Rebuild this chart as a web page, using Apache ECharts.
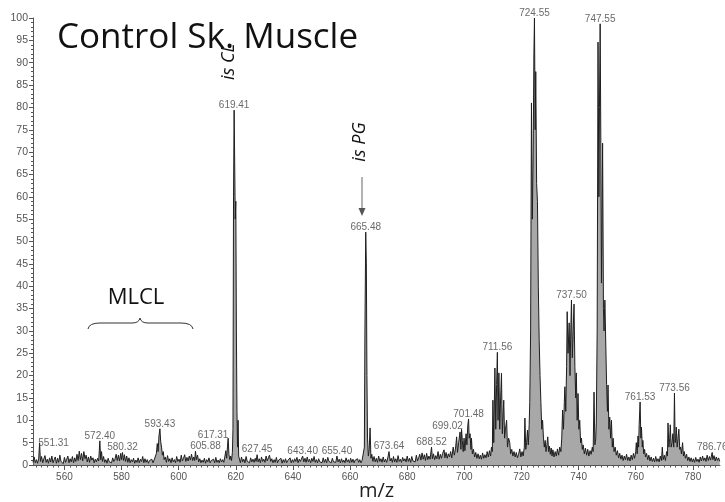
<!DOCTYPE html>
<html><head><meta charset="utf-8">
<script src="https://cdn.jsdelivr.net/npm/echarts@6/dist/echarts.min.js"></script>
<style>html,body{margin:0;padding:0;background:#fff}#c{width:725px;height:502px}</style>
</head><body><div id="c"></div>
<script>
// ---- data: [m/z, relative abundance] ----
const spectrum = [
[549.0,0.6],[549.4,1.8],[549.8,0.5],[550.2,1.2],[550.6,0.4],[551.0,1.5],[551.31,4.9],[551.6,0.8],[552.0,1.9],[552.4,0.5],
[552.8,1.4],[553.2,2.1],[553.6,0.6],[554.0,1.3],[554.4,0.4],[554.8,1.6],[555.2,0.7],[555.6,2.0],[556.0,0.5],[556.4,1.2],
[556.8,1.8],[557.2,0.4],[557.6,1.5],[558.0,0.6],[558.4,2.2],[558.8,0.8],[559.2,1.1],[559.6,0.3],[560.0,1.7],[560.4,0.6],
[560.8,1.3],[561.2,2.0],[561.6,0.5],[562.0,1.4],[562.4,0.7],[562.8,1.9],[563.2,0.5],[563.6,1.6],[564.0,0.8],[564.4,2.4],
[564.8,1.0],[565.2,3.1],[565.6,1.2],[566.0,2.6],[566.4,0.9],[566.8,3.0],[567.2,1.4],[567.6,2.2],[568.0,0.7],[568.4,1.8],
[568.8,0.6],[569.2,2.0],[569.6,1.1],[570.0,1.6],[570.4,0.5],[570.8,1.3],[571.2,0.7],[571.6,1.5],[572.0,0.9],[572.4,5.4],
[572.7,1.2],[573.0,3.0],[573.3,0.8],[573.7,1.9],[574.1,0.6],[574.5,1.2],[574.9,0.4],[575.3,1.5],[575.7,0.7],[576.1,1.1],
[576.5,0.5],[576.9,1.6],[577.3,0.8],[577.7,1.3],[578.1,2.4],[578.5,1.0],[578.9,2.2],[579.3,0.9],[579.7,2.6],[580.0,1.2],
[580.32,2.8],[580.7,1.0],[581.0,2.3],[581.4,0.8],[581.8,2.0],[582.2,0.6],[582.6,1.6],[583.0,0.5],[583.4,1.2],[583.8,0.7],
[584.2,1.5],[584.6,0.4],[585.0,1.1],[585.4,0.6],[585.8,1.6],[586.2,0.5],[586.6,1.3],[587.0,0.8],[587.4,1.9],[587.8,0.5],
[588.2,1.4],[588.6,0.6],[589.0,1.2],[589.4,0.4],[589.8,1.0],[590.2,0.6],[590.6,1.3],[591.0,0.5],[591.4,1.1],[591.8,0.7],
[592.2,2.6],[592.5,4.8],[592.8,3.0],[593.1,6.5],[593.43,8.1],[593.7,5.2],[594.0,4.0],[594.3,2.2],[594.6,3.0],[594.9,1.2],
[595.3,1.8],[595.7,0.6],[596.1,2.1],[596.5,0.8],[596.9,1.4],[597.3,0.5],[597.7,1.6],[598.1,0.7],[598.5,1.2],[598.9,0.5],
[599.3,1.9],[599.7,0.8],[600.1,1.3],[600.5,0.6],[600.9,2.2],[601.3,0.9],[601.7,1.5],[602.1,2.3],[602.5,0.8],[602.9,1.7],
[603.3,0.9],[603.7,2.0],[604.1,1.1],[604.5,2.4],[604.9,1.0],[605.3,1.8],[605.6,1.0],[605.88,3.1],[606.2,1.2],[606.6,2.2],
[607.0,0.7],[607.4,1.4],[607.8,0.5],[608.2,1.1],[608.6,0.6],[609.0,1.5],[609.4,0.4],[609.8,1.2],[610.2,0.7],[610.6,1.6],
[611.0,0.5],[611.4,1.0],[611.8,0.6],[612.2,1.3],[612.6,0.5],[613.0,1.7],[613.4,0.6],[613.8,1.1],[614.2,0.5],[614.6,1.4],
[615.0,0.7],[615.4,1.2],[615.8,0.6],[616.2,2.0],[616.5,3.2],[616.8,1.5],[617.1,4.2],[617.31,6.0],[617.6,2.3],[617.9,1.2],
[618.2,2.0],[618.5,1.0],[618.8,2.8],[619.0,8],[619.2,60],[619.41,79.4],[619.6,68],[619.8,55],[620.0,59],[620.2,30],
[620.4,12],[620.6,4],[620.8,10],[621.0,2],[621.3,1.6],[621.6,0.5],[622.0,1.8],[622.4,0.7],[622.8,1.3],[623.2,0.5],
[623.6,1.9],[624.0,0.8],[624.4,1.2],[624.8,0.5],[625.2,1.6],[625.6,0.7],[626.0,1.3],[626.4,0.6],[626.8,1.5],[627.1,0.8],
[627.45,2.3],[627.8,0.7],[628.2,1.4],[628.6,0.5],[629.0,1.8],[629.4,0.8],[629.8,1.3],[630.2,0.6],[630.6,2.0],[631.0,0.9],
[631.4,1.6],[631.8,2.2],[632.2,0.8],[632.6,1.4],[633.0,0.5],[633.4,1.2],[633.8,0.6],[634.2,1.7],[634.6,0.5],[635.0,1.1],
[635.4,0.7],[635.8,1.5],[636.2,0.4],[636.6,1.2],[637.0,0.6],[637.4,1.4],[637.8,0.5],[638.2,1.0],[638.6,0.7],[639.0,1.6],
[639.4,0.5],[639.8,1.2],[640.2,0.6],[640.6,1.4],[641.0,0.8],[641.4,1.7],[641.8,0.5],[642.2,1.3],[642.6,0.8],[643.0,1.1],
[643.4,2.0],[643.8,0.7],[644.2,1.5],[644.6,0.6],[645.0,1.8],[645.4,0.7],[645.8,1.3],[646.2,0.5],[646.6,1.5],[647.0,0.8],
[647.4,1.9],[647.8,0.6],[648.2,1.2],[648.6,0.5],[649.0,1.4],[649.4,0.7],[649.8,1.1],[650.2,0.5],[650.6,1.6],[651.0,0.6],
[651.4,1.3],[651.8,0.5],[652.2,1.7],[652.6,0.8],[653.0,1.2],[653.4,0.5],[653.8,1.5],[654.2,0.7],[654.6,1.1],[655.0,0.6],
[655.4,2.0],[655.8,0.7],[656.2,1.3],[656.6,0.5],[657.0,1.4],[657.4,0.6],[657.8,1.1],[658.2,0.5],[658.6,1.6],[659.0,0.7],
[659.4,1.2],[659.8,0.5],[660.2,1.5],[660.6,0.6],[661.0,1.3],[661.4,0.5],[661.8,1.1],[662.2,0.7],[662.6,1.4],[663.0,0.6],
[663.4,1.2],[663.8,0.5],[664.2,1.0],[664.6,0.8],[665.0,4],[665.2,30],[665.48,52.1],[665.7,45],[665.9,20],[666.1,6],
[666.4,2.0],[666.7,3.5],[667.0,8.3],[667.3,1.5],[667.6,2.4],[668.0,0.8],[668.4,1.9],[668.8,0.7],[669.2,1.5],[669.6,0.6],
[670.0,2.0],[670.4,0.8],[670.8,1.4],[671.2,0.6],[671.6,1.8],[672.0,0.7],[672.4,1.3],[672.8,0.6],[673.2,1.6],[673.64,3.0],
[674.0,0.9],[674.4,1.5],[674.8,0.6],[675.2,1.9],[675.6,0.7],[676.0,1.4],[676.4,0.6],[676.8,2.1],[677.2,0.8],[677.6,1.3],
[678.0,0.6],[678.4,1.7],[678.8,0.9],[679.2,1.4],[679.6,0.7],[680.0,2.0],[680.4,0.8],[680.8,1.5],[681.2,0.6],[681.6,1.9],
[682.0,0.9],[682.4,1.3],[682.8,0.7],[683.2,2.2],[683.6,0.9],[684.0,1.6],[684.4,2.4],[684.8,1.1],[685.2,2.7],[685.6,1.3],
[686.0,2.3],[686.4,1.0],[686.8,2.6],[687.2,1.2],[687.6,2.0],[688.0,1.3],[688.52,4.0],[688.8,1.4],[689.2,2.5],[689.6,1.2],
[690.0,2.1],[690.4,1.4],[690.8,3.0],[691.2,1.3],[691.6,2.4],[692.0,1.5],[692.4,2.6],[692.9,3.4],[693.2,1.6],[693.6,2.8],
[694.0,1.5],[694.4,2.5],[694.8,1.8],[695.2,3.0],[695.6,1.6],[696.1,4.0],[696.5,2.2],[696.9,3.6],[697.3,6.3],[697.6,2.8],
[698.0,5.0],[698.5,7.4],[698.8,3.5],[699.02,8.0],[699.3,5.5],[699.6,3.0],[699.9,6.0],[700.2,3.2],[700.6,7.0],[700.9,4.5],
[701.2,8.8],[701.48,10.3],[701.7,6.0],[702.0,7.0],[702.3,3.5],[702.5,6.0],[702.8,2.5],[703.2,3.5],[703.6,1.8],[704.0,2.8],
[704.4,1.5],[704.8,2.5],[705.2,1.4],[705.6,2.2],[706.0,1.3],[706.4,2.7],[706.8,1.5],[707.2,2.3],[707.6,1.6],[708.0,3.0],
[708.4,1.8],[708.8,3.2],[709.2,2.0],[709.5,4.0],[709.8,3.0],[710.0,14.5],[710.3,5],[710.7,21.7],[711.0,8],[711.3,18],
[711.56,25.2],[711.8,10],[712.1,20.6],[712.4,8],[712.7,15],[713.0,20.5],[713.3,7],[713.6,12],[713.8,14.5],[714.1,6],
[714.4,8],[714.8,10],[715.1,4],[715.5,6],[715.9,5],[716.2,2.5],[716.6,3.5],[717.0,2.0],[717.4,3.0],[717.8,1.8],
[718.2,2.8],[718.6,1.6],[719.0,2.4],[719.4,3.6],[719.8,1.8],[720.2,3.0],[720.6,2.0],[721.0,4.0],[721.2,10.5],[721.5,3.5],
[721.8,5.0],[722.1,7.8],[722.4,4.5],[722.7,9],[722.9,14],[723.2,30],[723.5,81],[723.8,55],[724.1,70],[724.35,92],
[724.55,100],[724.8,75],[725.0,88],[725.3,63],[725.6,59],[725.9,40],[726.2,28],[726.5,20],[726.8,14],[727.1,8],
[727.4,10],[727.7,6],[728.0,4],[728.3,5.5],[728.6,3.0],[728.9,4.5],[729.2,6.3],[729.5,3.0],[729.8,4.2],[730.1,2.4],
[730.4,3.8],[730.7,2.0],[731.0,3.4],[731.4,1.8],[731.8,3.0],[732.2,2.0],[732.6,3.6],[733.0,2.2],[733.4,4.0],[733.8,3.0],
[734.1,6],[734.4,12.3],[734.7,8],[735.0,14],[735.2,17.5],[735.5,12],[735.8,22],[736.0,34.3],[736.3,25],[736.7,31.8],
[737.0,20],[737.2,28],[737.5,36.9],[737.8,24],[738.1,30],[738.4,36.0],[738.7,22],[739.0,15],[739.2,20.6],[739.5,10],
[739.8,16],[740.1,8],[740.4,10],[740.7,5],[741.0,6],[741.3,3.5],[741.6,4.5],[742.0,2.5],[742.4,3.8],[742.8,2.2],
[743.2,3.5],[743.6,2.0],[744.0,3.2],[744.4,2.4],[744.8,4.0],[745.1,3.0],[745.4,16.3],[745.7,4.5],[746.0,6],[746.2,9.6],
[746.5,30],[746.8,94.6],[747.1,60],[747.3,80],[747.55,98.7],[747.8,70],[748.0,40.7],[748.2,55],[748.4,72],[748.7,35],
[748.9,30],[749.2,36.9],[749.5,36.5],[749.8,18],[750.1,12],[750.3,17.9],[750.6,8],[750.9,10.7],[751.2,6],[751.5,10],
[751.8,4],[752.1,6],[752.4,3],[752.8,4],[753.2,2.2],[753.6,3.2],[754.0,1.6],[754.4,2.6],[754.8,1.3],[755.2,2.2],
[755.6,1.0],[756.0,2.0],[756.4,1.2],[756.8,2.4],[757.2,1.0],[757.6,1.8],[758.0,0.9],[758.4,2.2],[758.8,1.2],[759.2,2.6],
[759.6,1.5],[760.0,3.0],[760.2,5],[760.5,2.5],[760.8,6.5],[761.0,4],[761.2,9],[761.53,14.1],[761.8,6],[762.0,8.5],
[762.3,4],[762.5,5.5],[762.8,2.5],[763.1,3.5],[763.4,1.8],[763.8,2.6],[764.2,1.2],[764.6,2.2],[765.0,0.9],[765.4,1.8],
[765.8,0.8],[766.2,1.5],[766.6,0.7],[767.0,1.9],[767.4,0.8],[767.8,1.4],[768.2,0.7],[768.6,2.0],[769.0,1.0],[769.3,4.0],
[769.6,1.2],[770.0,2.2],[770.4,1.0],[770.8,3.0],[771.1,2.0],[771.3,9.4],[771.6,4],[771.9,6],[772.1,9.0],[772.4,4],
[772.7,5],[773.0,7],[773.3,4],[773.56,16.1],[773.8,5],[774.0,6],[774.2,8.5],[774.5,4],[774.8,6],[775.1,8],
[775.4,3.5],[775.7,4],[776.0,2.5],[776.4,5],[776.7,2],[777.0,3],[777.4,1.5],[777.8,2.4],[778.2,1.0],[778.6,1.8],
[779.0,0.8],[779.4,1.6],[779.8,0.7],[780.2,1.4],[780.6,0.6],[781.0,1.7],[781.4,0.8],[781.8,1.3],[782.2,0.6],[782.6,1.8],
[783.0,0.9],[783.4,2.0],[783.8,1.0],[784.2,1.6],[784.6,0.8],[785.0,2.2],[785.4,1.0],[785.8,1.9],[786.2,1.1],[786.5,2.0],
[786.76,2.8],[787.0,1.2],[787.4,2.1],[787.8,0.9],[788.2,1.8],[788.6,1.0],[789.0,1.6],[789.4,0.8]
];
const labeledPeaks = [551.31,572.40,580.32,593.43,605.88,617.31,619.41,627.45,643.40,655.40,665.48,
  673.64,688.52,699.02,701.48,711.56,724.55,737.50,747.55,761.53,773.56,786.76];
const xTickLabels = [560,580,600,620,640,660,680,700,720,740,760,780];
const titleText = 'Control Sk. Muscle';
const groupLabel = 'MLCL';
const standardLabels = ['is CL','is PG'];
const xAxisName = 'm/z';

// ---- styling / placement (not data) ----
const labelOffsets = {'551.31':[14,5],'617.31':[-15,2],'699.02':[-14,2],'605.88':[10,0]};
const xMinor = [];
for (let v = 550; v <= 788; v += 2) if (v % 20 !== 0) xMinor.push(v);

const lookup = new Map(spectrum.map(p => [p[0].toFixed(2), p[1]]));
const labelData = labeledPeaks.map(m => {
  const k = m.toFixed(2);
  const item = {value: [m, lookup.get(k)], name: k};
  if (labelOffsets[k]) item.label = {offset: labelOffsets[k]};
  return item;
});

const chart = echarts.init(document.getElementById('c'), null, {renderer: 'canvas'});
const axisColor = '#555';
const braceStyle = {stroke: '#333', fill: null, lineWidth: 1};
chart.setOption({
  animation: false,
  backgroundColor: '#fff',
  grid: {left: 33, right: 5, top: 18, bottom: 37, containLabel: false, outerBoundsMode: 'none'},
  xAxis: [{
    type: 'value', min: 549, max: 789.5,
    name: xAxisName, nameLocation: 'middle', nameGap: 16, nameMoveOverlap: false,
    nameTextStyle: {fontFamily: 'Open Sans', fontSize: 20, color: '#222'},
    axisLine: {show: true, onZero: false, lineStyle: {color: axisColor, width: 1}},
    axisTick: {show: true, length: 5, customValues: xTickLabels, lineStyle: {color: axisColor}},
    axisLabel: {customValues: xTickLabels, fontFamily: 'Liberation Sans', fontSize: 10, color: '#555', margin: 7},
    splitLine: {show: false}
  }, {
    type: 'value', min: 549, max: 789.5, position: 'bottom',
    axisLine: {show: false},
    axisTick: {show: true, length: 2.5, customValues: xMinor, lineStyle: {color: axisColor}},
    axisLabel: {show: false},
    splitLine: {show: false}
  }],
  yAxis: {
    type: 'value', min: 0, max: 100, interval: 5,
    axisLine: {show: true, lineStyle: {color: axisColor, width: 1}},
    axisTick: {show: true, length: 4, lineStyle: {color: axisColor}},
    minorTick: {show: true, splitNumber: 5, length: 2, lineStyle: {color: axisColor}},
    axisLabel: {fontFamily: 'Liberation Sans', fontSize: 10.5, color: '#555', margin: 5},
    splitLine: {show: false}, minorSplitLine: {show: false}
  },
  series: [{
    type: 'line', data: spectrum, showSymbol: false, symbol: 'none',
    lineStyle: {color: '#1e1e1e', width: 1},
    areaStyle: {color: '#6e6e6e', opacity: 0.6},
    silent: true, z: 2
  }, {
    type: 'scatter', data: labelData, symbolSize: 0, silent: true, z: 3,
    label: {show: true, position: 'top', distance: 0,
      formatter: p => p.name,
      fontFamily: 'Liberation Sans', fontSize: 10, color: '#444'}
  }],
  graphic: [
    {type: 'text', x: 57, y: 38, style: {text: titleText, font: '35px "Open Sans"', fill: '#111', textVerticalAlign: 'middle'}},
    {type: 'text', x: 136, y: 298, style: {text: groupLabel, font: '22px "Open Sans"', fill: '#111', textAlign: 'center', textVerticalAlign: 'middle'}},
    {type: 'bezierCurve', shape: {x1: 88, y1: 329, x2: 100, y2: 323, cpx1: 89, cpy1: 323}, style: braceStyle},
    {type: 'line', shape: {x1: 100, y1: 323, x2: 132, y2: 323}, style: braceStyle},
    {type: 'bezierCurve', shape: {x1: 132, y1: 323, x2: 140, y2: 318, cpx1: 139, cpy1: 323}, style: braceStyle},
    {type: 'bezierCurve', shape: {x1: 140, y1: 318, x2: 148, y2: 323, cpx1: 141, cpy1: 323}, style: braceStyle},
    {type: 'line', shape: {x1: 148, y1: 323, x2: 181, y2: 323}, style: braceStyle},
    {type: 'bezierCurve', shape: {x1: 181, y1: 323, x2: 193, y2: 329, cpx1: 192, cpy1: 323}, style: braceStyle},
    {type: 'text', x: 229, y: 62, rotation: Math.PI / 2, style: {text: standardLabels[0], font: 'italic 18px "Open Sans"', fill: '#111', textAlign: 'center', textVerticalAlign: 'middle'}},
    {type: 'text', x: 360, y: 142, rotation: Math.PI / 2, style: {text: standardLabels[1], font: 'italic 18px "Open Sans"', fill: '#111', textAlign: 'center', textVerticalAlign: 'middle'}},
    {type: 'line', shape: {x1: 362, y1: 177, x2: 362, y2: 212}, style: {stroke: '#666', lineWidth: 1}},
    {type: 'polygon', shape: {points: [[358.5, 208], [365.5, 208], [362, 216]]}, style: {fill: '#555'}}
  ]
});
</script></body></html>
